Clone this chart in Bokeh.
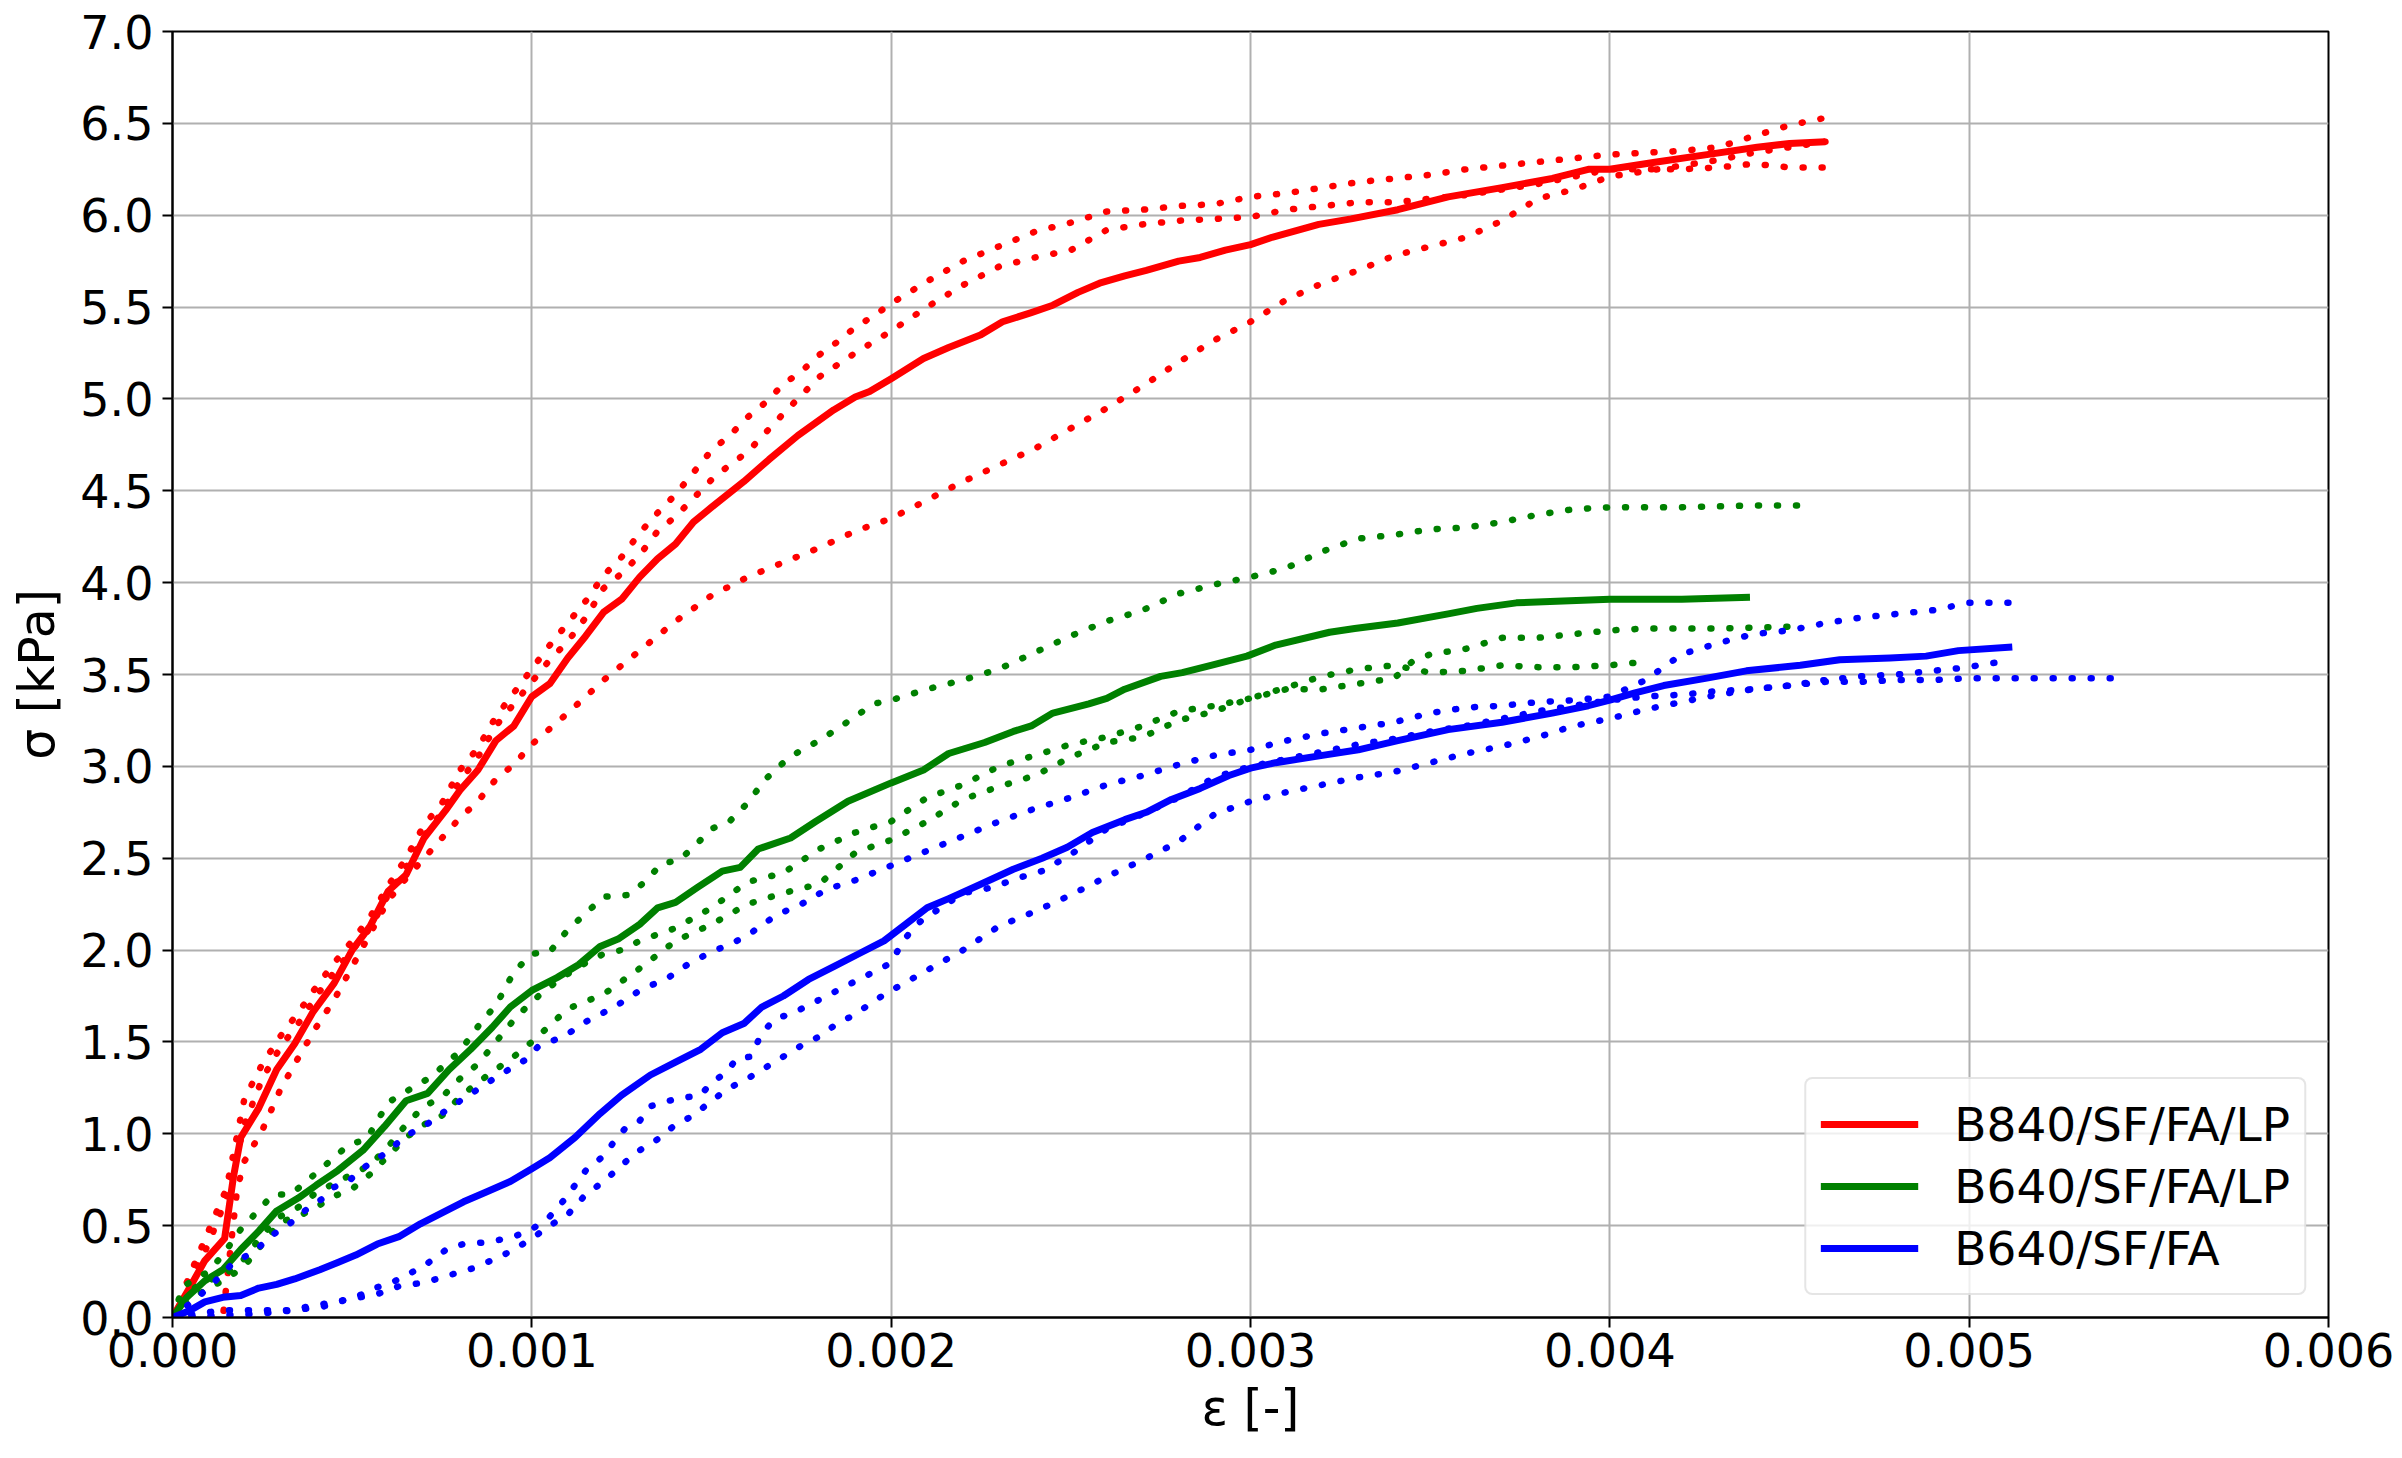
from bokeh.plotting import figure
from bokeh.models import Range1d, FixedTicker, PrintfTickFormatter
from bokeh.embed import file_html
from bokeh.resources import INLINE

# ---------------- data (strain [-], stress [kPa]) ----------------
series_labels = ["B840/SF/FA/LP", "B640/SF/FA/LP", "B640/SF/FA"]
series_colors = ["#ff0000", "#008000", "#0000ff"]

# B840/SF/FA/LP mean
red_mean_x = [0, 0.00005, 0.00009, 0.000145, 0.00017, 0.00019, 0.00024, 0.00029, 0.00034, 0.00039, 0.00045, 0.0005, 0.00055, 0.0006, 0.00065, 0.0007, 0.00076, 0.0008, 0.00085, 0.0009, 0.00095, 0.001, 0.00105, 0.0011, 0.00115, 0.0012, 0.00125, 0.0013, 0.00135, 0.0014, 0.00145, 0.0015, 0.00159, 0.00166, 0.00174, 0.00184, 0.0019, 0.00194, 0.002, 0.00209, 0.00216, 0.00225, 0.00231, 0.00239, 0.00245, 0.00252, 0.00258, 0.00265, 0.00271, 0.0028, 0.00286, 0.00293, 0.003, 0.00306, 0.00319, 0.00328, 0.00341, 0.00355, 0.0037, 0.00384, 0.00394, 0.004, 0.00413, 0.00427, 0.00441, 0.0045, 0.0046]
red_mean_y = [0, 0.17, 0.31, 0.43, 0.77, 0.98, 1.14, 1.35, 1.49, 1.66, 1.82, 2.0, 2.13, 2.32, 2.41, 2.61, 2.76, 2.87, 2.98, 3.14, 3.22, 3.38, 3.45, 3.59, 3.71, 3.84, 3.91, 4.03, 4.13, 4.21, 4.33, 4.41, 4.55, 4.67, 4.8, 4.94, 5.01, 5.04, 5.11, 5.22, 5.28, 5.35, 5.42, 5.47, 5.51, 5.58, 5.63, 5.67, 5.7, 5.75, 5.77, 5.81, 5.84, 5.88, 5.95, 5.98, 6.03, 6.1, 6.15, 6.2, 6.25, 6.25, 6.29, 6.33, 6.37, 6.39, 6.4]

red_s1_x = [0, 0.00005, 0.0001, 0.00015, 0.0002, 0.00025, 0.0003, 0.00035, 0.0004, 0.00045, 0.0005, 0.00055, 0.0006, 0.00065, 0.0007, 0.00075, 0.0008, 0.00085, 0.0009, 0.00095, 0.001, 0.00105, 0.0011, 0.00115, 0.0012, 0.00125, 0.0013, 0.00135, 0.0014, 0.00145, 0.0015, 0.00155, 0.0016, 0.00165, 0.0017, 0.00175, 0.0018, 0.00185, 0.0019, 0.00195, 0.002, 0.0021, 0.0022, 0.0023, 0.0024, 0.0025, 0.0026, 0.0027, 0.0028, 0.0029, 0.003, 0.0031, 0.0032, 0.0033, 0.0034, 0.0035, 0.0036, 0.0037, 0.0038, 0.0039, 0.004, 0.0041, 0.0042, 0.0043, 0.0044, 0.0045, 0.0046]
red_s1_y = [0, 0.24, 0.47, 0.7, 1.19, 1.38, 1.53, 1.66, 1.8, 1.93, 2.05, 2.18, 2.35, 2.5, 2.68, 2.8, 2.98, 3.1, 3.27, 3.4, 3.53, 3.66, 3.78, 3.9, 4.04, 4.14, 4.27, 4.38, 4.48, 4.6, 4.72, 4.8, 4.9, 4.98, 5.08, 5.15, 5.24, 5.31, 5.39, 5.45, 5.52, 5.64, 5.75, 5.83, 5.91, 5.96, 6.02, 6.03, 6.05, 6.06, 6.1, 6.12, 6.15, 6.18, 6.2, 6.22, 6.25, 6.27, 6.29, 6.31, 6.33, 6.34, 6.35, 6.37, 6.43, 6.49, 6.53]

red_s2_x = [0, 0.00005, 0.0001, 0.00015, 0.0002, 0.00025, 0.0003, 0.00035, 0.0004, 0.00045, 0.0005, 0.00055, 0.0006, 0.00065, 0.0007, 0.00075, 0.0008, 0.00085, 0.0009, 0.00095, 0.001, 0.00105, 0.0011, 0.00115, 0.0012, 0.00125, 0.0013, 0.00135, 0.0014, 0.00145, 0.0015, 0.00155, 0.0016, 0.0017, 0.0018, 0.0019, 0.002, 0.0021, 0.0022, 0.0023, 0.0024, 0.0025, 0.0026, 0.0027, 0.0028, 0.0029, 0.003, 0.0031, 0.0032, 0.0033, 0.0034, 0.0035, 0.0036, 0.0037, 0.0038, 0.0039, 0.004, 0.0041, 0.0042, 0.0043, 0.0044, 0.0045, 0.0046]
red_s2_y = [0, 0.2, 0.4, 0.65, 1.05, 1.3, 1.47, 1.6, 1.75, 1.88, 2.0, 2.12, 2.3, 2.45, 2.62, 2.75, 2.92, 3.05, 3.22, 3.34, 3.46, 3.58, 3.68, 3.81, 3.97, 4.05, 4.15, 4.28, 4.36, 4.46, 4.56, 4.64, 4.71, 4.92, 5.12, 5.25, 5.37, 5.5, 5.62, 5.72, 5.77, 5.81, 5.92, 5.95, 5.97, 5.98, 5.99, 6.03, 6.05, 6.07, 6.07, 6.09, 6.11, 6.14, 6.17, 6.21, 6.25, 6.25, 6.25, 6.26, 6.28, 6.26, 6.26]

red_s3_x = [0, 0.00007, 0.00014, 0.00018, 0.0002, 0.00025, 0.0003, 0.00034, 0.0004, 0.00045, 0.0005, 0.00055, 0.0006, 0.00065, 0.0007, 0.00075, 0.0008, 0.00085, 0.0009, 0.00095, 0.001, 0.0011, 0.0012, 0.0013, 0.0014, 0.0015, 0.0016, 0.0017, 0.0018, 0.0019, 0.002, 0.0021, 0.0022, 0.0023, 0.0024, 0.0025, 0.0026, 0.0027, 0.0028, 0.0029, 0.003, 0.0031, 0.0032, 0.0033, 0.0034, 0.0035, 0.0036, 0.0037, 0.0038, 0.0039, 0.004, 0.0041, 0.0042, 0.0043, 0.0044, 0.0045, 0.0046]
red_s3_y = [0, 0.0, 0.0, 0.7, 0.85, 1.02, 1.24, 1.38, 1.58, 1.73, 1.91, 2.09, 2.27, 2.39, 2.5, 2.61, 2.72, 2.81, 2.93, 3.01, 3.12, 3.29, 3.47, 3.63, 3.79, 3.93, 4.03, 4.11, 4.19, 4.28, 4.35, 4.45, 4.55, 4.64, 4.73, 4.84, 4.95, 5.07, 5.2, 5.32, 5.42, 5.54, 5.63, 5.7, 5.78, 5.83, 5.88, 5.97, 6.09, 6.14, 6.21, 6.24, 6.27, 6.3, 6.34, 6.37, 6.4]

# B640/SF/FA/LP mean
green_mean_x = [0, 0.00004, 0.00009, 0.00014, 0.00019, 0.00024, 0.00029, 0.00035, 0.0004, 0.00046, 0.00053, 0.00059, 0.00065, 0.00071, 0.00077, 0.00083, 0.00089, 0.00094, 0.001, 0.00107, 0.00113, 0.00119, 0.00124, 0.0013, 0.00135, 0.0014, 0.00146, 0.00153, 0.00158, 0.00163, 0.00172, 0.00179, 0.00188, 0.002, 0.00209, 0.00216, 0.00226, 0.00234, 0.00239, 0.00245, 0.00255, 0.0026, 0.00265, 0.00275, 0.00281, 0.00289, 0.00299, 0.00307, 0.00322, 0.00329, 0.00341, 0.00355, 0.00363, 0.00374, 0.00387, 0.004, 0.0042, 0.00439]
green_mean_y = [0, 0.11, 0.2, 0.26, 0.37, 0.47, 0.58, 0.65, 0.72, 0.8, 0.91, 1.04, 1.18, 1.22, 1.35, 1.46, 1.58, 1.69, 1.78, 1.85, 1.92, 2.02, 2.06, 2.14, 2.23, 2.26, 2.34, 2.43, 2.45, 2.55, 2.61, 2.7, 2.81, 2.91, 2.98, 3.07, 3.13, 3.19, 3.22, 3.29, 3.34, 3.37, 3.42, 3.49, 3.51, 3.55, 3.6, 3.66, 3.73, 3.75, 3.78, 3.83, 3.86, 3.89, 3.9, 3.91, 3.91, 3.92]

green_s1_x = [0, 0.00003, 0.0001, 0.00014, 0.00019, 0.00028, 0.00033, 0.00042, 0.00049, 0.00054, 0.0006, 0.00065, 0.00072, 0.0008, 0.00086, 0.0009, 0.00095, 0.001, 0.00105, 0.0011, 0.00115, 0.0012, 0.00127, 0.00132, 0.00136, 0.00141, 0.00145, 0.0015, 0.00155, 0.0016, 0.00165, 0.0017, 0.00175, 0.0018, 0.0019, 0.00195, 0.002, 0.0021, 0.0022, 0.0023, 0.0024, 0.0025, 0.0026, 0.0027, 0.0028, 0.0029, 0.003, 0.0031, 0.0032, 0.0033, 0.0034, 0.0035, 0.0036, 0.0037, 0.0038, 0.0039, 0.004, 0.0042, 0.0044, 0.00453]
green_s1_y = [0, 0.17, 0.25, 0.34, 0.48, 0.67, 0.67, 0.82, 0.94, 0.97, 1.17, 1.23, 1.31, 1.45, 1.61, 1.7, 1.88, 1.98, 1.99, 2.11, 2.2, 2.29, 2.3, 2.38, 2.47, 2.49, 2.56, 2.66, 2.7, 2.8, 2.93, 3.02, 3.09, 3.14, 3.27, 3.34, 3.36, 3.42, 3.47, 3.53, 3.62, 3.71, 3.79, 3.85, 3.94, 3.99, 4.03, 4.08, 4.17, 4.24, 4.26, 4.29, 4.3, 4.33, 4.37, 4.4, 4.41, 4.41, 4.42, 4.42]

green_s2_x = [0, 0.00005, 0.0001, 0.00015, 0.0002, 0.00025, 0.0003, 0.00035, 0.0004, 0.00045, 0.0005, 0.00055, 0.0006, 0.00065, 0.0007, 0.00075, 0.0008, 0.00085, 0.0009, 0.00095, 0.001, 0.00105, 0.0011, 0.00115, 0.0012, 0.00125, 0.0013, 0.0014, 0.0015, 0.0016, 0.0017, 0.0018, 0.0019, 0.002, 0.0021, 0.0022, 0.0023, 0.0024, 0.0025, 0.0026, 0.0027, 0.0028, 0.0029, 0.003, 0.0031, 0.0032, 0.0033, 0.0034, 0.00345, 0.0035, 0.0036, 0.0037, 0.0038, 0.0039, 0.004, 0.0041, 0.0043, 0.0045, 0.00453]
green_s2_y = [0, 0.15, 0.2, 0.24, 0.32, 0.45, 0.55, 0.6, 0.68, 0.73, 0.78, 0.83, 0.93, 1.05, 1.15, 1.2, 1.3, 1.38, 1.5, 1.62, 1.72, 1.8, 1.87, 1.93, 1.98, 2.0, 2.05, 2.12, 2.23, 2.37, 2.42, 2.55, 2.64, 2.7, 2.83, 2.9, 3.0, 3.06, 3.12, 3.16, 3.22, 3.3, 3.33, 3.37, 3.42, 3.42, 3.45, 3.48, 3.57, 3.61, 3.64, 3.7, 3.7, 3.72, 3.74, 3.75, 3.75, 3.76, 3.77]

green_s3_x = [0, 0.00005, 0.0001, 0.00015, 0.0002, 0.00025, 0.0003, 0.00035, 0.0004, 0.00045, 0.0005, 0.00055, 0.0006, 0.00065, 0.0007, 0.00075, 0.0008, 0.00085, 0.0009, 0.00095, 0.001, 0.0011, 0.0012, 0.0013, 0.0014, 0.0015, 0.0016, 0.0017, 0.0018, 0.0019, 0.002, 0.0021, 0.0022, 0.0023, 0.0024, 0.0025, 0.0026, 0.0027, 0.0028, 0.0029, 0.003, 0.0031, 0.0032, 0.0033, 0.0034, 0.0035, 0.0036, 0.0037, 0.0038, 0.0039, 0.004, 0.0041]
green_s3_y = [0, 0.1, 0.16, 0.21, 0.28, 0.4, 0.52, 0.55, 0.6, 0.66, 0.7, 0.78, 0.88, 0.98, 1.05, 1.1, 1.2, 1.28, 1.35, 1.42, 1.5, 1.68, 1.76, 1.9, 2.05, 2.14, 2.25, 2.31, 2.36, 2.53, 2.6, 2.7, 2.82, 2.89, 2.95, 3.05, 3.13, 3.16, 3.25, 3.3, 3.37, 3.43, 3.49, 3.53, 3.55, 3.51, 3.52, 3.55, 3.54, 3.54, 3.55, 3.57]

# B640/SF/FA mean
blue_mean_x = [0, 0.00005, 0.00009, 0.00014, 0.00019, 0.00024, 0.00029, 0.00034, 0.00041, 0.00046, 0.00051, 0.00057, 0.00063, 0.00069, 0.00075, 0.00081, 0.00087, 0.00094, 0.001, 0.00105, 0.00112, 0.00119, 0.00125, 0.00133, 0.0014, 0.00147, 0.00153, 0.00159, 0.00164, 0.0017, 0.00177, 0.00184, 0.00191, 0.00198, 0.00204, 0.0021, 0.00216, 0.00224, 0.00234, 0.00242, 0.00249, 0.00256, 0.00265, 0.00271, 0.00278, 0.00286, 0.00294, 0.003, 0.00307, 0.0032, 0.0033, 0.00341, 0.00355, 0.0037, 0.00384, 0.00394, 0.004, 0.00407, 0.00415, 0.00427, 0.00438, 0.00453, 0.00464, 0.00478, 0.00488, 0.00497, 0.00512]
blue_mean_y = [0, 0.04, 0.085, 0.11, 0.12, 0.16, 0.18, 0.21, 0.26, 0.3, 0.34, 0.4, 0.44, 0.51, 0.57, 0.63, 0.68, 0.74, 0.81, 0.87, 0.98, 1.11, 1.21, 1.32, 1.39, 1.46, 1.55, 1.6, 1.69, 1.75, 1.84, 1.91, 1.98, 2.05, 2.14, 2.23, 2.28, 2.35, 2.44, 2.5, 2.56, 2.64, 2.71, 2.75, 2.82, 2.88, 2.95, 2.99, 3.02, 3.06, 3.09, 3.14, 3.2, 3.24, 3.29, 3.33, 3.36, 3.4, 3.44, 3.48, 3.52, 3.55, 3.58, 3.59, 3.6, 3.63, 3.65]

blue_s1_x = [0, 0.00007, 0.00011, 0.00017, 0.00021, 0.00024, 0.00027, 0.00032, 0.00038, 0.00042, 0.00045, 0.00049, 0.00052, 0.00059, 0.00062, 0.00066, 0.0007, 0.00077, 0.00084, 0.00091, 0.00098, 0.00102, 0.00109, 0.00115, 0.00123, 0.0013, 0.00138, 0.00144, 0.0015, 0.00155, 0.0016, 0.00168, 0.00175, 0.00182, 0.0019, 0.002, 0.0021, 0.0022, 0.0023, 0.0024, 0.0025, 0.0026, 0.0027, 0.0028, 0.0029, 0.003, 0.0031, 0.0032, 0.0033, 0.0034, 0.0035, 0.0036, 0.0037, 0.0038, 0.0039, 0.004, 0.0041, 0.0042, 0.0043, 0.0044, 0.0045, 0.0046, 0.0047, 0.0048, 0.0049, 0.005, 0.00512]
blue_s1_y = [0, 0.11, 0.18, 0.3, 0.34, 0.38, 0.44, 0.5, 0.6, 0.65, 0.71, 0.74, 0.8, 0.89, 0.94, 1.0, 1.04, 1.14, 1.23, 1.32, 1.4, 1.48, 1.53, 1.61, 1.69, 1.78, 1.85, 1.93, 1.99, 2.03, 2.08, 2.19, 2.25, 2.33, 2.38, 2.46, 2.54, 2.62, 2.7, 2.77, 2.83, 2.9, 2.95, 3.01, 3.06, 3.09, 3.14, 3.18, 3.21, 3.24, 3.29, 3.32, 3.33, 3.35, 3.36, 3.38, 3.47, 3.61, 3.67, 3.72, 3.74, 3.78, 3.81, 3.83, 3.85, 3.89, 3.89]

blue_s2_x = [0, 0.00014, 0.00032, 0.00038, 0.00045, 0.00049, 0.00052, 0.00056, 0.0006, 0.00066, 0.0007, 0.00074, 0.00077, 0.00081, 0.00088, 0.00095, 0.001, 0.00105, 0.00109, 0.00112, 0.00115, 0.0012, 0.00123, 0.00126, 0.0013, 0.00133, 0.0014, 0.00147, 0.0015, 0.00154, 0.00157, 0.00161, 0.00164, 0.00168, 0.00172, 0.00179, 0.00186, 0.00193, 0.002, 0.00203, 0.00207, 0.00213, 0.0022, 0.00228, 0.00235, 0.00242, 0.0025, 0.0026, 0.0027, 0.0028, 0.0029, 0.003, 0.0031, 0.0032, 0.0033, 0.0034, 0.0035, 0.0036, 0.0037, 0.0038, 0.0039, 0.004, 0.0041, 0.0042, 0.0043, 0.0044, 0.0045, 0.0046, 0.0047, 0.0048, 0.0049, 0.005, 0.0052, 0.0054]
blue_s2_y = [0, 0.04, 0.04, 0.06, 0.085, 0.1, 0.12, 0.16, 0.18, 0.24, 0.28, 0.34, 0.38, 0.4, 0.41, 0.44, 0.48, 0.55, 0.64, 0.72, 0.8, 0.88, 0.96, 1.03, 1.07, 1.15, 1.19, 1.21, 1.28, 1.33, 1.41, 1.42, 1.55, 1.63, 1.65, 1.72, 1.79, 1.86, 1.93, 2.04, 2.14, 2.22, 2.31, 2.34, 2.39, 2.43, 2.52, 2.66, 2.74, 2.83, 2.94, 3.0, 3.04, 3.08, 3.12, 3.15, 3.19, 3.22, 3.26, 3.3, 3.33, 3.36, 3.38, 3.39, 3.41, 3.42, 3.44, 3.46, 3.46, 3.47, 3.47, 3.48, 3.48, 3.48]

blue_s3_x = [0, 0.00024, 0.00034, 0.00042, 0.00046, 0.00052, 0.00056, 0.00063, 0.0007, 0.00077, 0.00084, 0.00091, 0.00095, 0.001, 0.00105, 0.0011, 0.00115, 0.0012, 0.00125, 0.0013, 0.00135, 0.0014, 0.00145, 0.0015, 0.00155, 0.0016, 0.00165, 0.0017, 0.00175, 0.0018, 0.00185, 0.0019, 0.00195, 0.002, 0.0021, 0.0022, 0.0023, 0.0024, 0.0025, 0.0026, 0.0027, 0.0028, 0.0029, 0.003, 0.0031, 0.0032, 0.0033, 0.0034, 0.0035, 0.0036, 0.0037, 0.0038, 0.0039, 0.004, 0.0041, 0.0042, 0.0043, 0.0044, 0.0045, 0.0046, 0.0047, 0.0048, 0.0049, 0.005, 0.00505, 0.00511]
blue_s3_y = [0, 0.02, 0.04, 0.06, 0.085, 0.11, 0.12, 0.17, 0.19, 0.23, 0.27, 0.33, 0.37, 0.43, 0.5, 0.56, 0.67, 0.74, 0.83, 0.91, 0.97, 1.05, 1.1, 1.18, 1.25, 1.3, 1.36, 1.42, 1.48, 1.53, 1.6, 1.65, 1.72, 1.78, 1.89, 2.0, 2.13, 2.21, 2.3, 2.4, 2.49, 2.59, 2.74, 2.81, 2.86, 2.9, 2.94, 2.97, 3.02, 3.07, 3.11, 3.16, 3.22, 3.26, 3.31, 3.35, 3.39, 3.42, 3.44, 3.47, 3.49, 3.5, 3.52, 3.54, 3.56, 3.57]

x_ticks = [0.0, 0.001, 0.002, 0.003, 0.004, 0.005, 0.006]
y_ticks = [0.0, 0.5, 1.0, 1.5, 2.0, 2.5, 3.0, 3.5, 4.0, 4.5, 5.0, 5.5, 6.0, 6.5, 7.0]
x_label = "ε [-]"
y_label = "σ [kPa]"

# ---------------- figure ----------------
FONT = "DejaVu Sans"
p = figure(width=2394, height=1450, output_backend="svg", toolbar_location=None,
           x_range=Range1d(0, 0.006), y_range=Range1d(0, 7),
           min_border_left=172, min_border_right=66, min_border_top=31, min_border_bottom=133,
           background_fill_color="white", border_fill_color="white")

p.outline_line_color = "black"
p.outline_line_width = 2
p.outline_line_alpha = 1.0

p.xaxis.ticker = FixedTicker(ticks=x_ticks)
p.yaxis.ticker = FixedTicker(ticks=y_ticks)
p.xaxis.formatter = PrintfTickFormatter(format="%.3f")
p.yaxis.formatter = PrintfTickFormatter(format="%.1f")
p.xaxis.axis_label = x_label
p.yaxis.axis_label = y_label

for ax in (p.xaxis, p.yaxis):
    ax.axis_line_color = "black"
    ax.axis_line_width = 2
    ax.major_tick_line_color = "black"
    ax.major_tick_line_width = 2
    ax.major_tick_out = 10
    ax.major_tick_in = 0
    ax.minor_tick_line_color = None
    ax.major_label_text_font = FONT
    ax.major_label_text_font_size = "46px"
    ax.major_label_text_color = "black"
    ax.axis_label_text_font = FONT
    ax.axis_label_text_font_size = "49px"
    ax.axis_label_text_font_style = "normal"
    ax.axis_label_text_color = "black"

p.xaxis.major_label_standoff = 5
p.xaxis.axis_label_standoff = 10
p.yaxis.major_label_standoff = 9
p.yaxis.axis_label_standoff = 11

p.grid.grid_line_color = "#b0b0b0"
p.grid.grid_line_width = 2

dotted = {
    0: [(red_s1_x, red_s1_y), (red_s2_x, red_s2_y), (red_s3_x, red_s3_y)],
    1: [(green_s1_x, green_s1_y), (green_s2_x, green_s2_y), (green_s3_x, green_s3_y)],
    2: [(blue_s1_x, blue_s1_y), (blue_s2_x, blue_s2_y), (blue_s3_x, blue_s3_y)],
}
means = [(red_mean_x, red_mean_y), (green_mean_x, green_mean_y), (blue_mean_x, blue_mean_y)]

for i in range(3):
    for xs, ys in dotted[i]:
        p.line(xs, ys, line_color=series_colors[i], line_width=6.5, line_dash="1 18",
               line_cap="round")
    mx, my = means[i]
    p.line(mx, my, line_color=series_colors[i], line_width=7, line_join="round",
           legend_label=series_labels[i])

lg = p.legend[0]
lg.location = "bottom_right"
lg.margin = 22
lg.padding = 14
lg.spacing = 0
lg.glyph_width = 98
lg.glyph_height = 62
lg.label_height = 62
lg.label_standoff = 36
lg.label_text_font = FONT
lg.label_text_font_size = "47px"
lg.label_text_color = "black"
lg.border_line_color = "#cccccc"
lg.border_line_width = 2
lg.background_fill_color = "white"
lg.background_fill_alpha = 0.8
if "border_radius" in lg.properties():
    lg.border_radius = 8

open("out.html", "w").write(file_html(p, INLINE))
